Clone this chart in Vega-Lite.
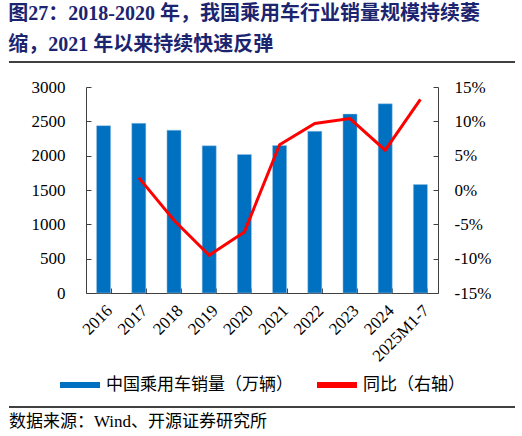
{
  "$schema": "https://vega.github.io/schema/vega-lite/v6.json",
  "padding": {"left": 8, "right": 8, "top": 4, "bottom": 0},
  "background": "#ffffff",
  "bounds": "flush",
  "center": true,
  "spacing": 10,
  "title": {
    "text": ["图27：2018-2020  年，我国乘用车行业销量规模持续萎", "缩，2021 年以来持续快速反弹"],
    "anchor": "start",
    "frame": "bounds",
    "font": "Liberation Serif, Noto Sans CJK SC",
    "fontSize": 20,
    "fontWeight": "bold",
    "color": "#1C2470",
    "lineHeight": 31,
    "offset": 6
  },
  "resolve": {"scale": {"color": "independent"}, "legend": {"color": "independent"}},
  "config": {
    "view": {"stroke": null},
    "axis": {
      "labelFont": "Liberation Serif",
      "labelFontSize": 17,
      "labelColor": "#000000",
      "domainColor": "#404040",
      "tickColor": "#404040",
      "grid": false,
      "title": null
    },
    "legend": {
      "labelFont": "Noto Sans CJK SC",
      "labelFontSize": 17,
      "labelColor": "#000000",
      "labelLimit": 260,
      "layout": {"bottom": {"anchor": "middle", "direction": "horizontal"}}
    }
  },
  "vconcat": [
    {
      "width": 506,
      "height": 15,
      "data": {"values": [{"x0": 0, "x1": 1, "y": 1}]},
      "mark": {"type": "rule", "color": "#000000", "strokeWidth": 1.3},
      "encoding": {
        "x": {"field": "x0", "type": "quantitative", "scale": {"domain": [0, 1]}, "axis": null},
        "x2": {"field": "x1"},
        "y": {"field": "y", "type": "quantitative", "scale": {"domain": [0, 1]}, "axis": null}
      }
    },
    {
      "width": 352,
      "height": 206,
      "data": {
        "values": [
          {"year": "2016", "sales": 2437, "yoy": null},
          {"year": "2017", "sales": 2471, "yoy": 1.8},
          {"year": "2018", "sales": 2371, "yoy": -4.4},
          {"year": "2019", "sales": 2144, "yoy": -9.5},
          {"year": "2020", "sales": 2018, "yoy": -6.1},
          {"year": "2021", "sales": 2148, "yoy": 6.6},
          {"year": "2022", "sales": 2356, "yoy": 9.7},
          {"year": "2023", "sales": 2606, "yoy": 10.4},
          {"year": "2024", "sales": 2756, "yoy": 5.8},
          {"year": "2025M1-7", "sales": 1579, "yoy": 13.2}
        ]
      },
      "encoding": {
        "x": {
          "field": "year",
          "type": "nominal",
          "sort": null,
          "scale": {"paddingInner": 0.6, "paddingOuter": 0.3},
          "axis": {
            "labelAngle": -45,
            "tickBand": "extent",
            "tickSize": -5,
            "labelPadding": 14
          }
        }
      },
      "layer": [
        {
          "mark": {"type": "bar", "color": "#0070C0", "stroke": "#9DC3E6", "strokeWidth": 0.5},
          "encoding": {
            "y": {
              "field": "sales",
              "type": "quantitative",
              "scale": {"domain": [0, 3000]},
              "axis": {
                "values": [0, 500, 1000, 1500, 2000, 2500, 3000],
                "format": "d",
                "tickSize": -5,
                "labelPadding": 26
              }
            },
            "color": {
              "datum": "中国乘用车销量（万辆）",
              "type": "nominal",
              "scale": {
                "domain": ["中国乘用车销量（万辆）", "同比（右轴）"],
                "range": ["#0070C0", "#FF0000"]
              },
              "legend": {
                "orient": "bottom",
                "direction": "horizontal",
                "title": null,
                "symbolType": "M-1,-0.15H1V0.15H-1Z",
                "symbolSize": 1600,
                "symbolStrokeWidth": 0,
                "columnPadding": 24,
                "labelOffset": 6,
                "offset": 0,
                "encode": {
                  "symbols": {
                    "update": {
                      "shape": {"signal": "datum.value === '同比（右轴）' ? 'M-1,-0.075H1V0.075H-1Z' : 'M-1,-0.15H1V0.15H-1Z'"},
                      "fill": {"signal": "datum.value === '同比（右轴）' ? '#FF0000' : '#0070C0'"},
                      "stroke": {"value": "transparent"}
                    }
                  }
                }
              }
            }
          }
        },
        {
          "mark": {"type": "line", "color": "#FF0000", "strokeWidth": 3},
          "encoding": {
            "y": {
              "field": "yoy",
              "type": "quantitative",
              "scale": {"domain": [-15, 15]},
              "axis": {
                "orient": "right",
                "values": [-15, -10, -5, 0, 5, 10, 15],
                "labelExpr": "datum.value + '%'",
                "tickSize": -5,
                "labelPadding": 21
              }
            },
            "color": {"datum": "同比（右轴）", "type": "nominal"}
          }
        }
      ],
      "resolve": {"scale": {"y": "independent"}}
    },
    {
      "width": 506,
      "height": 104,
      "title": {
        "text": "数据来源：Wind、开源证券研究所",
        "orient": "bottom",
        "anchor": "start",
        "frame": "group",
        "font": "Liberation Serif, Noto Sans CJK SC",
        "fontSize": 17,
        "fontWeight": "normal",
        "color": "#000000",
        "offset": 6
      },
      "data": {"values": [{"x0": 0, "x1": 1, "y": 0}]},
      "mark": {"type": "rule", "color": "#000000", "strokeWidth": 1.3},
      "encoding": {
        "x": {"field": "x0", "type": "quantitative", "scale": {"domain": [0, 1]}, "axis": null},
        "x2": {"field": "x1"},
        "y": {"field": "y", "type": "quantitative", "scale": {"domain": [0, 1]}, "axis": null}
      }
    }
  ]
}
